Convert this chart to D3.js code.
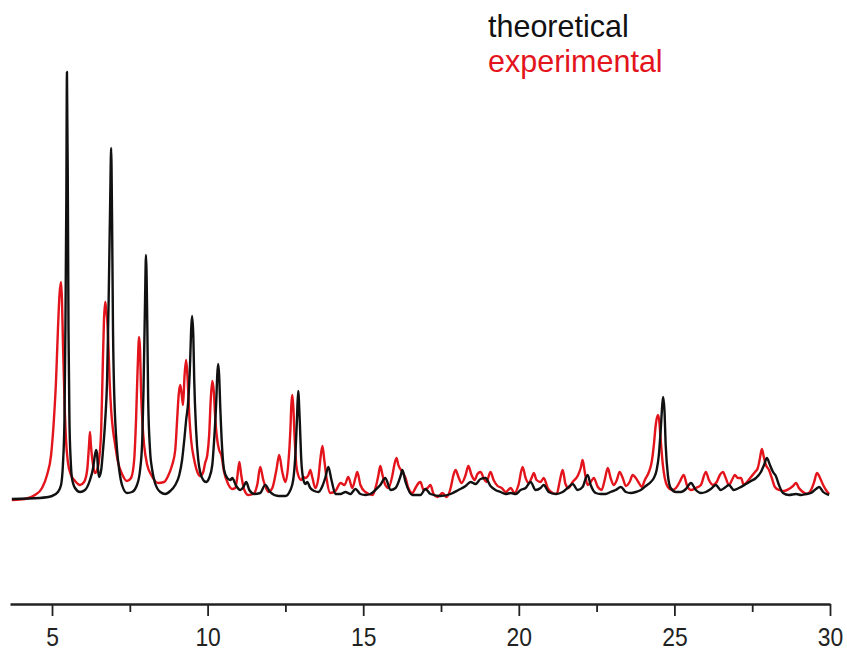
<!DOCTYPE html>
<html>
<head>
<meta charset="utf-8">
<script src="https://cdn.jsdelivr.net/npm/d3@7"></script>
<style>
  html, body { margin: 0; padding: 0; background: #fff; }
  svg { display: block; }
</style>
</head>
<body>
<svg id="chart" width="847" height="651"></svg>
<script>
// Powder XRD pattern: simulated (theoretical) vs measured (experimental), intensity in arbitrary units vs 2θ (deg)

const seriesNames = ["theoretical", "experimental"];
const seriesColors = ["#111111", "#e3141b"];

const theoTheta = [3.71,4.61,5.00,5.19,5.29,5.35,5.40,5.43,5.46,5.48,5.51,5.53,5.56,5.60,5.64,5.74,5.90,6.06,6.22,6.32,6.38,6.42,6.45,6.48,6.51,6.58,6.64,6.71,6.77,6.82,6.87,6.90,6.93,6.96,7.00,7.03,7.09,7.16,7.25,7.41,7.57,7.73,7.83,7.90,7.94,7.99,8.02,8.06,8.09,8.15,8.22,8.31,8.48,8.64,8.80,8.96,9.09,9.18,9.25,9.31,9.38,9.44,9.47,9.50,9.54,9.57,9.63,9.70,9.76,9.86,9.95,10.05,10.15,10.21,10.28,10.31,10.34,10.37,10.41,10.47,10.53,10.63,10.73,10.79,10.92,11.05,11.15,11.24,11.34,11.50,11.69,11.85,12.01,12.27,12.50,12.66,12.75,12.82,12.87,12.91,12.96,13.01,13.08,13.14,13.20,13.30,13.43,13.56,13.69,13.78,13.88,13.98,14.11,14.27,14.43,14.59,14.75,14.91,15.07,15.23,15.39,15.55,15.71,15.88,16.04,16.20,16.26,16.36,16.58,16.84,17.00,17.16,17.48,17.81,18.06,18.29,18.45,18.61,18.77,18.93,19.09,19.25,19.41,19.58,19.74,19.90,20.06,20.22,20.38,20.54,20.70,20.80,20.96,21.18,21.41,21.57,21.73,21.89,22.05,22.21,22.31,22.47,22.63,22.79,22.95,23.11,23.28,23.44,23.60,23.76,23.92,24.08,24.24,24.34,24.43,24.50,24.56,24.61,24.64,24.68,24.72,24.79,24.88,25.05,25.21,25.37,25.53,25.69,25.85,26.01,26.17,26.33,26.49,26.65,26.75,26.91,27.07,27.30,27.46,27.62,27.78,27.88,27.97,28.07,28.17,28.26,28.36,28.49,28.68,28.91,29.07,29.23,29.39,29.55,29.65,29.78,29.97];
const theoIntensity = [1,2,4,8,15,35,80,170,300,428,300,170,80,40,22,12,8,10,20,32,45,50,45,30,23,30,50,80,120,200,300,352,280,170,105,80,50,30,15,7,8,15,30,60,110,200,245,180,100,50,30,17,8,6,9,15,25,40,60,80,100,140,170,184,165,120,70,40,28,20,18,22,35,60,100,125,136,125,90,50,30,22,20,22,14,10,13,18,10,6,7,15,8,4,4,10,20,45,80,109,80,40,20,16,18,12,9,8,14,22,33,20,6,6,8,6,11,6,5,6,10,15,22,10,12,24,30,18,5,5,11,6,4,6,10,14,18,16,21,22,14,10,8,6,7,6,10,12,18,10,12,15,8,6,8,12,16,10,13,25,15,7,6,6,8,10,13,8,7,8,10,14,18,22,30,45,70,95,103,90,55,25,12,8,8,11,17,10,7,8,11,15,10,13,15,10,12,16,19,22,28,35,42,35,28,24,15,7,5,6,5,6,7,11,13,8,5];

const expTheta = [3.71,4.13,4.45,4.68,4.84,4.97,5.06,5.13,5.19,5.24,5.29,5.32,5.35,5.40,5.45,5.51,5.61,5.74,5.90,6.03,6.13,6.19,6.22,6.25,6.32,6.38,6.45,6.51,6.58,6.62,6.67,6.71,6.74,6.77,6.80,6.85,6.90,6.96,7.03,7.12,7.25,7.41,7.54,7.64,7.70,7.75,7.80,7.83,7.86,7.91,7.96,8.06,8.19,8.41,8.60,8.73,8.86,8.96,9.02,9.07,9.12,9.17,9.21,9.26,9.31,9.36,9.41,9.47,9.57,9.67,9.76,9.86,9.92,9.99,10.05,10.10,10.15,10.20,10.24,10.31,10.37,10.44,10.53,10.66,10.79,10.89,10.95,11.02,11.08,11.18,11.31,11.47,11.60,11.69,11.79,11.95,12.08,12.21,12.30,12.40,12.50,12.59,12.66,12.69,12.72,12.75,12.80,12.85,12.91,13.01,13.08,13.14,13.24,13.30,13.37,13.46,13.56,13.62,13.69,13.75,13.82,13.94,14.11,14.27,14.40,14.52,14.65,14.75,14.81,14.91,15.07,15.30,15.42,15.49,15.55,15.62,15.71,15.81,15.94,16.00,16.07,16.13,16.26,16.36,16.45,16.58,16.68,16.78,16.84,16.94,17.07,17.16,17.26,17.39,17.55,17.68,17.81,17.90,17.97,18.06,18.16,18.29,18.38,18.48,18.58,18.67,18.77,18.87,18.96,19.09,19.19,19.32,19.45,19.58,19.74,19.86,19.99,20.12,20.22,20.31,20.41,20.48,20.57,20.70,20.80,20.93,21.09,21.22,21.31,21.41,21.50,21.60,21.73,21.89,21.99,22.05,22.12,22.21,22.31,22.41,22.54,22.66,22.76,22.86,22.95,23.05,23.15,23.24,23.34,23.44,23.56,23.66,23.76,23.86,23.95,24.05,24.18,24.27,24.34,24.40,24.47,24.51,24.56,24.63,24.69,24.79,24.92,25.05,25.17,25.30,25.40,25.53,25.69,25.85,26.01,26.11,26.24,26.36,26.46,26.56,26.65,26.75,26.85,26.94,27.04,27.14,27.23,27.33,27.46,27.59,27.68,27.75,27.81,27.88,27.94,28.04,28.13,28.23,28.36,28.52,28.68,28.81,28.91,29.00,29.13,29.26,29.39,29.49,29.58,29.68,29.78,29.87,29.97];
const expIntensity = [0,1,5,12,25,45,80,120,170,205,218,200,160,100,60,38,25,19,15,18,30,55,68,55,35,27,30,40,70,120,180,198,190,182,165,120,90,70,55,38,26,19,22,40,80,130,163,150,110,75,55,35,25,17,18,24,35,50,80,105,115,105,95,125,140,120,85,60,40,28,24,28,37,45,65,100,119,108,85,60,50,45,28,16,11,12,22,38,25,10,5,6,16,33,20,8,12,30,45,28,18,35,70,95,105,95,60,35,25,20,23,22,25,30,22,12,22,40,54,40,22,7,9,17,15,23,12,22,28,15,8,5,15,25,34,25,15,12,25,35,42,35,28,22,12,7,12,17,18,10,12,15,6,3,7,3,12,25,30,23,17,25,34,25,20,26,28,22,18,28,20,14,12,8,12,7,15,33,22,17,22,27,20,18,22,12,7,6,18,30,16,12,18,24,32,40,28,15,18,22,13,10,20,32,22,15,20,28,22,14,18,25,22,17,13,20,28,38,55,75,85,80,60,35,22,13,10,12,18,25,15,10,12,15,28,20,15,18,25,28,22,15,20,25,22,22,15,18,23,28,32,42,51,42,35,30,22,13,10,9,11,14,17,12,8,6,10,18,27,22,15,10,6];

const axisTicks = [5, 7.5, 10, 12.5, 15, 17.5, 20, 22.5, 25, 27.5, 30];
const axisLabels = ["5", "", "10", "", "15", "", "20", "", "25", "", "30"];

const svg = d3.select("#chart");

const x = d3.scaleLinear().domain([3.65, 30]).range([10, 830]);
const y = d3.scaleLinear().domain([0, 428]).range([500, 72]);

const theo = theoTheta.map((t, i) => ({ t, v: theoIntensity[i] }));
const exp = expTheta.map((t, i) => ({ t, v: expIntensity[i] }));

const line = d3.line()
  .x(d => x(d.t))
  .y(d => y(d.v))
  .curve(d3.curveMonotoneX);

const plot = svg.append("g");

[exp, theo].forEach((data, k) => {
  plot.append("path")
    .datum(data)
    .attr("fill", "none")
    .attr("stroke", k === 0 ? seriesColors[1] : seriesColors[0])
    .attr("stroke-width", 2.4)
    .attr("stroke-linejoin", "round")
    .attr("d", line);
});

// 2θ axis at the bottom
const xAxis = d3.axisBottom(x)
  .tickValues(axisTicks)
  .tickSize(0)
  .tickFormat((d, i) => axisLabels[i]);

const gx = svg.append("g")
  .attr("transform", "translate(0,604)")
  .call(xAxis);

gx.select(".domain")
  .attr("stroke", "#222")
  .attr("stroke-width", 2.6);

gx.selectAll(".tick line")
  .attr("y2", (d, i) => axisLabels[i] ? 12 : 8)
  .attr("stroke", "#222")
  .attr("stroke-width", 1.8);

gx.selectAll(".tick text")
  .attr("y", 0)
  .attr("dy", 0)
  .attr("transform", "translate(0,42) scale(0.88,1)")
  .attr("x", 0)
  .style("font-family", "'Liberation Sans', Arial, sans-serif")
  .style("font-size", "26px")
  .attr("fill", "#222");

// Legend
const legend = svg.append("g").attr("transform", "translate(488,0)");
seriesNames.forEach((name, i) => {
  legend.append("text")
    .attr("x", 0)
    .attr("y", 37 + i * 35)
    .attr("fill", seriesColors[i])
    .style("font-family", "'Liberation Sans', Arial, sans-serif")
    .style("font-size", "30.5px")
    .text(name);
});
</script>
</body>
</html>
